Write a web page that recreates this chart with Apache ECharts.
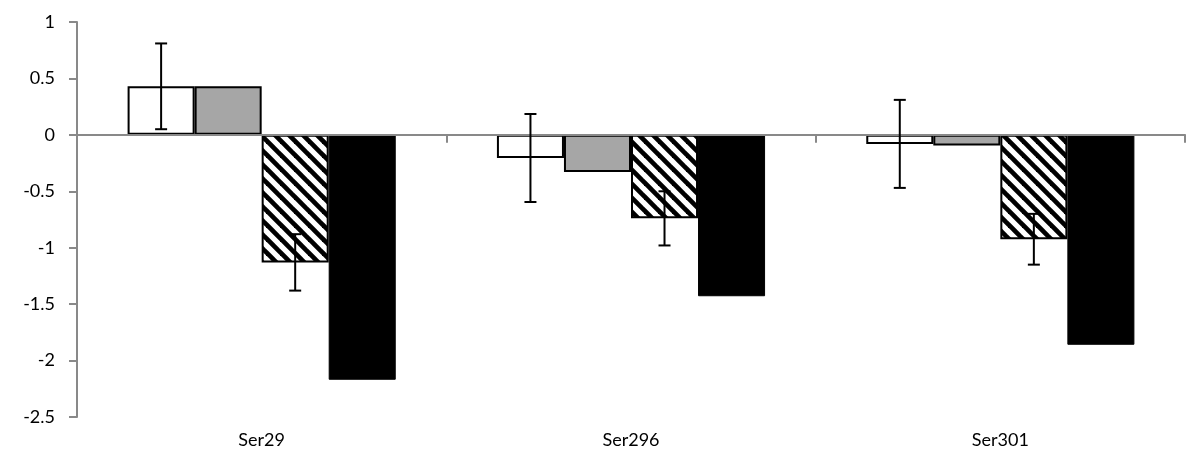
<!DOCTYPE html>
<html>
<head>
<meta charset="utf-8">
<script src="https://cdn.jsdelivr.net/npm/echarts@6/dist/echarts.min.js"></script>
<style>
html,body{margin:0;padding:0;background:#fff;}
#chart{width:1189px;height:470px;}
</style>
</head>
<body>
<div id="chart"></div>
<script>
// ---- data ----
const categories = ['Ser29', 'Ser296', 'Ser301'];
const whiteValues = [0.43, -0.205, -0.08];
const whiteErrors = [0.38, 0.39, 0.39];
const grayValues = [0.43, -0.33, -0.095];
const hatchValues = [-1.13, -0.74, -0.925];
const hatchErrors = [0.25, 0.24, 0.225];
const blackValues = [-2.17, -1.43, -1.86];
const yTicks = { min: -2.5, max: 1, interval: 0.5 };

// ---- hatch pattern ----
function makeHatch() {
  const s = 14;
  const c = document.createElement('canvas');
  c.width = s; c.height = s;
  const ctx = c.getContext('2d');
  ctx.fillStyle = '#fff';
  ctx.fillRect(0, 0, s, s);
  ctx.strokeStyle = '#000';
  ctx.lineWidth = 4.7;
  for (let k = -1; k <= 1; k++) {
    ctx.beginPath();
    ctx.moveTo(k * s - 2, -2);
    ctx.lineTo(k * s + s + 2, s + 2);
    ctx.stroke();
  }
  return c;
}

const GAP = 0.274;
const NSER = 4;

function errorSeries(values, errors, idx) {
  return {
    type: 'custom',
    z: 6,
    data: values.map((v, i) => [i, v, errors[i]]),
    renderItem: function (params, api) {
      const ci = api.value(0);
      const v = api.value(1);
      const e = api.value(2);
      const catW = api.size([1, 0])[0];
      const bw = catW * (1 - GAP) / NSER;
      const center = api.coord([ci, 0])[0];
      const x = center + (idx - (NSER - 1) / 2) * bw;
      const top = api.coord([ci, v + e])[1];
      const bot = api.coord([ci, v - e])[1];
      const cap = 6;
      const st = { stroke: '#000', lineWidth: 2 };
      return {
        type: 'group',
        children: [
          { type: 'line', shape: { x1: x, y1: top, x2: x, y2: bot }, style: st },
          { type: 'line', shape: { x1: x - cap, y1: top, x2: x + cap, y2: top }, style: st },
          { type: 'line', shape: { x1: x - cap, y1: bot, x2: x + cap, y2: bot }, style: st }
        ]
      };
    }
  };
}

const chart = echarts.init(document.getElementById('chart'), null, { renderer: 'canvas' });
const font = 'Lato';
chart.setOption({
  animation: false,
  backgroundColor: '#fff',
  grid: { left: 77, right: 4, top: 22, bottom: 53, containLabel: false },
  xAxis: [
    {
      type: 'category',
      data: categories,
      z: 4,
      axisLine: { onZero: true, lineStyle: { color: '#898989', width: 2 } },
      axisTick: { show: true, length: 8, lineStyle: { color: '#898989', width: 2 } },
      axisLabel: { show: false }
    },
    {
      type: 'category',
      data: categories,
      position: 'bottom',
      axisLine: { show: false, onZero: false },
      axisTick: { show: false },
      axisLabel: { show: true, margin: 14, fontFamily: font, fontSize: 18, color: '#000' }
    }
  ],
  yAxis: {
    type: 'value',
    min: yTicks.min,
    max: yTicks.max,
    interval: yTicks.interval,
    splitLine: { show: false },
    axisLine: { show: true, lineStyle: { color: '#898989', width: 2 } },
    axisTick: { show: true, length: 8, lineStyle: { color: '#898989', width: 2 } },
    axisLabel: { margin: 22, fontFamily: font, fontSize: 18, color: '#000' }
  },
  series: [
    {
      type: 'bar', data: whiteValues, barGap: '0%', barCategoryGap: (GAP * 100) + '%',
      itemStyle: { color: '#fff', borderColor: '#000', borderWidth: 2 }
    },
    {
      type: 'bar', data: grayValues, barGap: '0%', barCategoryGap: (GAP * 100) + '%',
      itemStyle: { color: '#a6a6a6', borderColor: '#000', borderWidth: 2 }
    },
    {
      type: 'bar', data: hatchValues, barGap: '0%', barCategoryGap: (GAP * 100) + '%',
      itemStyle: { color: { image: makeHatch(), repeat: 'repeat' }, borderColor: '#000', borderWidth: 2 }
    },
    {
      type: 'bar', data: blackValues, barGap: '0%', barCategoryGap: (GAP * 100) + '%',
      itemStyle: { color: '#000', borderColor: '#000', borderWidth: 1 }
    },
    errorSeries(whiteValues, whiteErrors, 0),
    errorSeries(hatchValues, hatchErrors, 2)
  ]
});
</script>
</body>
</html>
